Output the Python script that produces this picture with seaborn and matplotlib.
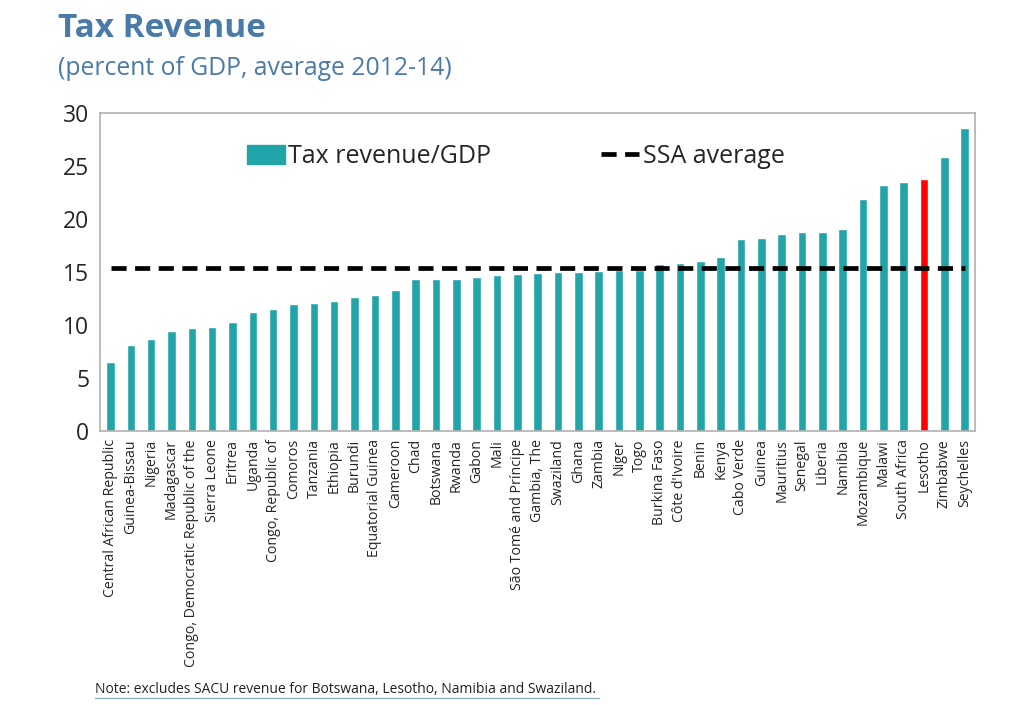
import numpy as np
import pandas as pd
import matplotlib
matplotlib.use("Agg")
import matplotlib.pyplot as plt
from matplotlib.patches import Patch
from matplotlib.lines import Line2D
import seaborn as sns

countries = [
    "Central African Republic", "Guinea-Bissau", "Nigeria", "Madagascar",
    "Congo, Democratic Republic of the", "Sierra Leone", "Eritrea", "Uganda",
    "Congo, Republic of", "Comoros", "Tanzania", "Ethiopia", "Burundi",
    "Equatorial Guinea", "Cameroon", "Chad", "Botswana", "Rwanda", "Gabon", "Mali",
    "São Tomé and Príncipe", "Gambia, The", "Swaziland", "Ghana", "Zambia", "Niger",
    "Togo", "Burkina Faso", "Côte d'Ivoire", "Benin", "Kenya", "Cabo Verde", "Guinea",
    "Mauritius", "Senegal", "Liberia", "Namibia", "Mozambique", "Malawi",
    "South Africa", "Lesotho", "Zimbabwe", "Seychelles",
]
tax_rev = [
    6.5, 8.1, 8.7, 9.4, 9.7, 9.8, 10.3, 11.2, 11.5, 12.0, 12.1, 12.2, 12.6,
    12.8, 13.3, 14.3, 14.3, 14.3, 14.5, 14.7, 14.8, 14.9, 15.0, 15.0, 15.1, 15.2,
    15.2, 15.7, 15.8, 16.0, 16.4, 18.1, 18.2, 18.6, 18.8, 18.8, 19.0, 21.9, 23.2,
    23.5, 23.8, 25.8, 28.6,
]
ssa_avg = 15.4
highlight = "Lesotho"

TEAL = "#21A5A8"
RED = "#FF0000"
BLUE = "#4A7AA8"

sns.set_theme(style="white")
plt.rcParams["font.family"] = ["Open Sans", "DejaVu Sans"]

df = pd.DataFrame({"country": countries, "value": tax_rev})
df["group"] = np.where(df["country"] == highlight, "hl", "base")
df["ssa"] = ssa_avg
df["pos"] = np.arange(len(df))

fig = plt.figure(figsize=(10.24, 7.05), dpi=100)
ax = fig.add_axes([0.098, 0.389, 0.854, 0.451])

sns.barplot(data=df, x="country", y="value", hue="group",
            palette={"base": TEAL, "hl": RED}, dodge=False, width=0.42,
            legend=False, ax=ax, saturation=1)
sns.lineplot(data=df, x="pos", y="ssa", color="black", lw=3.4,
             dashes=False, ax=ax, legend=False)
ax.lines[-1].set_dashes([3.2, 1.8])

ax.set_xlim(-0.5, len(df) - 0.5)
ax.set_ylim(0, 30)
ax.set_yticks(range(0, 31, 5))
ax.set_xlabel(""); ax.set_ylabel("")
ax.tick_params(axis="y", labelsize=16.5, length=4, direction="in", color="#999999", pad=8)
ax.set_xticks(df["pos"])
ax.set_xticklabels(df["country"], rotation=90, fontsize=10.2, va="top", ha="center")
ax.tick_params(axis="x", length=0, pad=6)
ax.set_xticks(np.arange(-0.5, len(df), 1), minor=True)
ax.tick_params(axis="x", which="minor", length=4, direction="in", color="#aaaaaa")
for s in ax.spines.values():
    s.set_color("#b0b0b0"); s.set_linewidth(1.2)

handles = [Patch(color=TEAL, label="Tax revenue/GDP"),
           Line2D([], [], color="black", lw=3.4, dashes=[3.2, 1.8], label="SSA average")]
ax.legend(handles=handles, ncol=2, frameon=False, loc="center",
          bbox_to_anchor=(0.475, 0.862), fontsize=18, columnspacing=4.4,
          handlelength=1.5, handletextpad=0.15, handleheight=0.8)

fig.text(0.057, 0.96, "Tax Revenue", fontsize=24, fontweight="bold", color=BLUE, va="center")
fig.text(0.057, 0.903, "(percent of GDP, average 2012-14)", fontsize=17.8, color=BLUE, va="center")
fig.text(0.093, 0.012, "Note: excludes SACU revenue for Botswana, Lesotho, Namibia and Swaziland.",
         fontsize=10, color="#222222", va="bottom")
fig.add_artist(Line2D([0.093, 0.585], [0.010, 0.010], color="#8fb0c0", lw=1))

fig.savefig("out.png", dpi=100)
